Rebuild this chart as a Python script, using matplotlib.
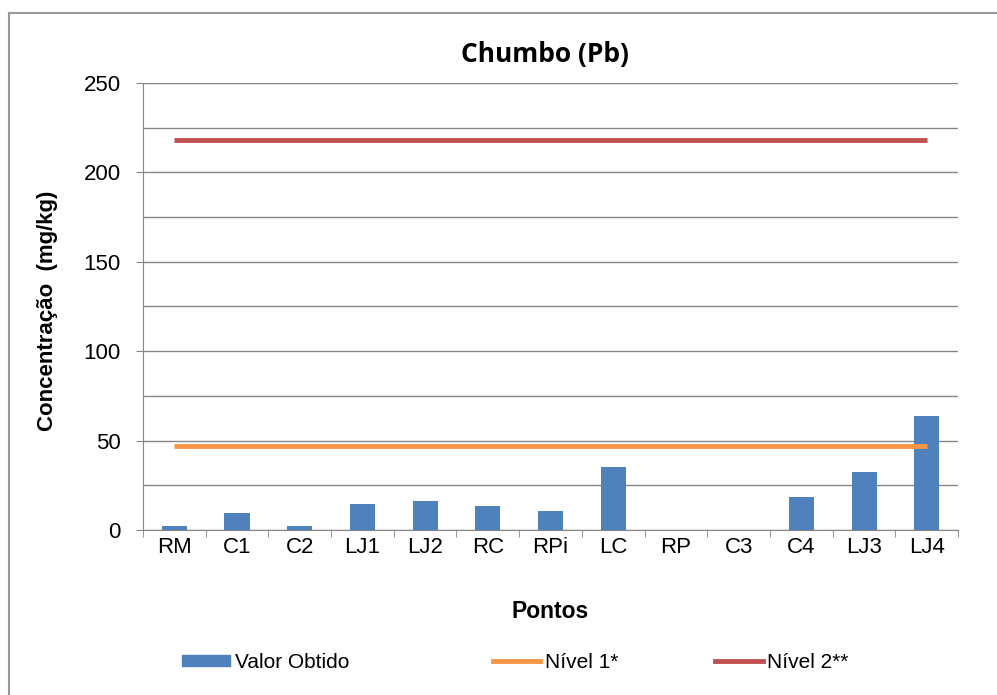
import matplotlib
matplotlib.use("Agg")
import matplotlib.pyplot as plt
from matplotlib.lines import Line2D
from matplotlib.patches import Patch

# dados do gráfico
pontos = ['RM', 'C1', 'C2', 'LJ1', 'LJ2', 'RC', 'RPi', 'LC', 'RP', 'C3', 'C4', 'LJ3', 'LJ4']
valor_obtido = [2.5, 9.5, 2.5, 14.5, 16.5, 13.5, 10.5, 35.5, 0, 0, 18.5, 32.5, 64]
nivel1 = [47] * len(pontos)
nivel2 = [218] * len(pontos)

azul = '#4F81BD'
laranja = '#F79646'
vermelho = '#C0504D'
cinza = '#868686'

plt.rcParams['font.family'] = ['Liberation Sans', 'DejaVu Sans']

fig = plt.figure(figsize=(9.97, 6.95), dpi=100)
ax = fig.add_axes([0.1434, 0.2374, 0.8176, 0.6432])

x = list(range(len(pontos)))
ax.bar(x, valor_obtido, width=0.4, color=azul, zorder=3)
ax.plot(x, nivel1, color=laranja, lw=3.5, zorder=4, solid_capstyle='butt')
ax.plot(x, nivel2, color=vermelho, lw=3.5, zorder=4, solid_capstyle='butt')

ax.set_xlim(-0.5, len(pontos) - 0.5)
ax.set_ylim(0, 250)
ax.set_yticks(range(0, 251, 50))
ax.set_yticks(range(25, 251, 50), minor=True)
ax.tick_params(axis='y', which='minor', length=0)
ax.grid(axis='y', which='both', color=cinza, lw=1, zorder=0)

ax.set_xticks(x)
ax.set_xticklabels(pontos)
ax.set_xticks([i - 0.5 for i in range(len(pontos) + 1)], minor=True)
ax.tick_params(axis='x', which='major', length=0, pad=5, labelsize=16)
ax.tick_params(axis='x', which='minor', length=5, color=cinza, direction='out')
ax.tick_params(axis='y', which='major', length=5, color=cinza, labelsize=16, pad=11)

for s in ['top', 'right']:
    ax.spines[s].set_visible(False)
for s in ['left', 'bottom']:
    ax.spines[s].set_color(cinza)

fig.text(0.547, 0.921, 'Chumbo (Pb)', ha='center', va='center',
         fontsize=19, fontweight='bold', family=['Open Sans', 'DejaVu Sans'])
ax.set_xlabel('Pontos', fontsize=16.5, fontweight='bold')
ax.xaxis.set_label_coords(0.5, -0.157)
ax.set_ylabel('Concentração  (mg/kg)', fontsize=16, fontweight='bold')
ax.yaxis.set_label_coords(-0.104, 0.49)

# legenda em três partes
itens = [
    (Patch(color=azul), 'Valor Obtido', 0.183),
    (Line2D([], [], color=laranja, lw=3.5), 'Nível 1*', 0.494),
    (Line2D([], [], color=vermelho, lw=3.5), 'Nível 2**', 0.717),
]
for h, lab, xpos in itens:
    fig.legend([h], [lab], loc='center left', bbox_to_anchor=(xpos, 0.047),
               frameon=False, fontsize=15, handlelength=2.3, handleheight=0.5,
               handletextpad=0.2, borderaxespad=0, borderpad=0)

# borda do gráfico
fig.add_artist(Line2D([0.009, 0.009], [0, 0.981], color='#999999', lw=1.5,
                      transform=fig.transFigure))
fig.add_artist(Line2D([0.009, 1], [0.981, 0.981], color='#999999', lw=1.5,
                      transform=fig.transFigure))

fig.savefig('out.png', dpi=100)
